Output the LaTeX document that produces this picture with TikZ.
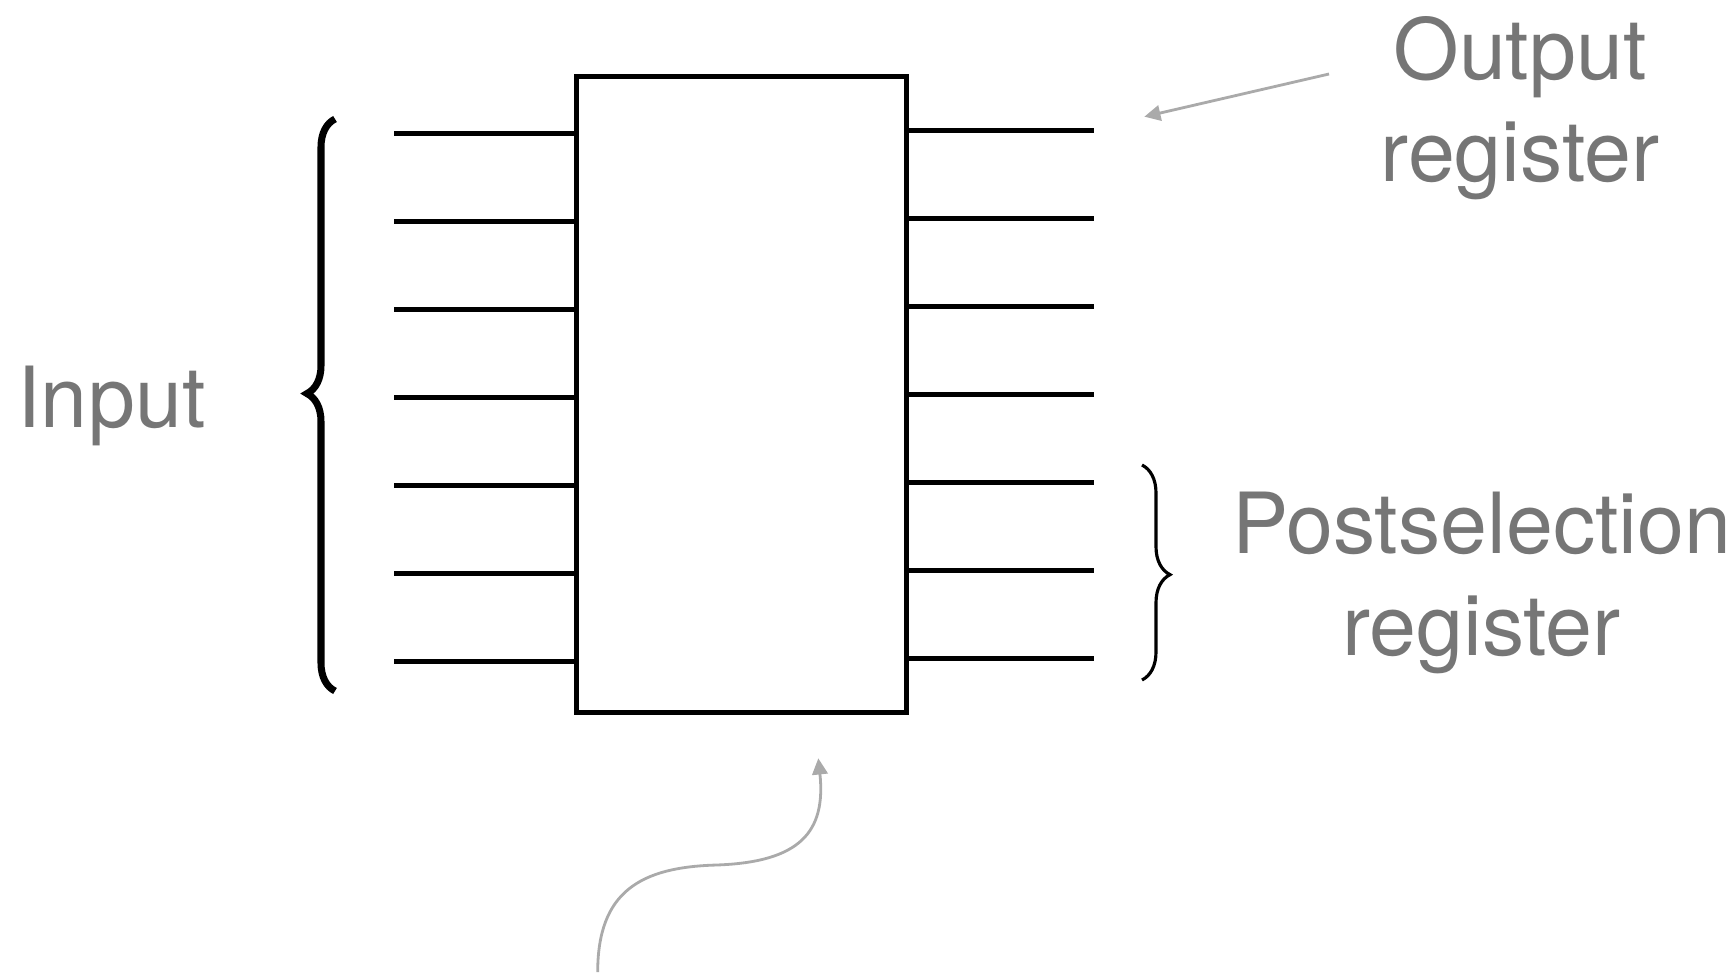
\documentclass[tikz,border=0pt]{standalone}
\usepackage{fontspec}
\setmainfont{TeX Gyre Heros}
\usetikzlibrary{arrows.meta,positioning,calc,decorations.pathreplacing}
\definecolor{labelgray}{RGB}{118,118,118}
\definecolor{arrowgray}{RGB}{170,170,170}
\tikzset{
  wire/.style={line width=1.4pt},
  curly/.style={decorate,decoration={brace,amplitude=0.28cm,aspect=#1}},
  regtext/.style={text=labelgray,font=\fontsize{24}{29}\selectfont,inner sep=0pt},
  pointer/.style={arrowgray,line width=0.8pt,arrows=-{Triangle[length=4.6pt,width=4.4pt]}}
}
\begin{document}
\begin{tikzpicture}
\useasboundingbox (0,0) rectangle (17.35,9.72);

% the gate
\node[draw,line width=1.4pt,minimum width=3.297cm,minimum height=6.358cm,inner sep=0pt] (box) at (7.418,5.774) {};

% wires in and out
\foreach \i in {0,...,6} {
  \coordinate (in\i) at (3.94,{8.383-0.88*\i});
  \draw[wire] (in\i) -- (in\i -| box.west);
  \coordinate (out\i) at (10.943,{8.417-0.88*\i});
  \draw[wire] (out\i -| box.east) -- (out\i);
}

% braces
\coordinate (inlow) at (3.35,2.81);
\coordinate (inhigh) at (3.35,8.53);
\draw[curly=0.52,line width=2pt] (inlow) -- (inhigh);
\coordinate (pshigh) at (11.42,5.07);
\coordinate (pslow) at (11.42,2.92);
\draw[curly=0.51,line width=0.9pt] (pshigh) -- (pslow);

% labels
\node[regtext,anchor=base] (input) at (1.115,5.447) {Input};
\node[regtext,anchor=base,align=center] (outreg) at (15.2,7.903) {Output\\register};
\node[regtext,anchor=base,align=center] (psreg) at (14.816,3.17) {Postselection\\register};

% pointers
\coordinate (outtail) at (13.29,8.98);
\coordinate (outhead) at (11.443,8.553);
\draw[pointer] (outtail) -- (outhead);
\coordinate (gentail) at (5.977,0);
\coordinate (genhead) at (8.183,2.137);
\draw[pointer] (gentail) .. controls (5.977,0.8) and (6.4,1.05) .. (7.17,1.07) .. controls (8.0,1.1) and (8.26,1.4) .. (genhead);
\end{tikzpicture}
\end{document}
